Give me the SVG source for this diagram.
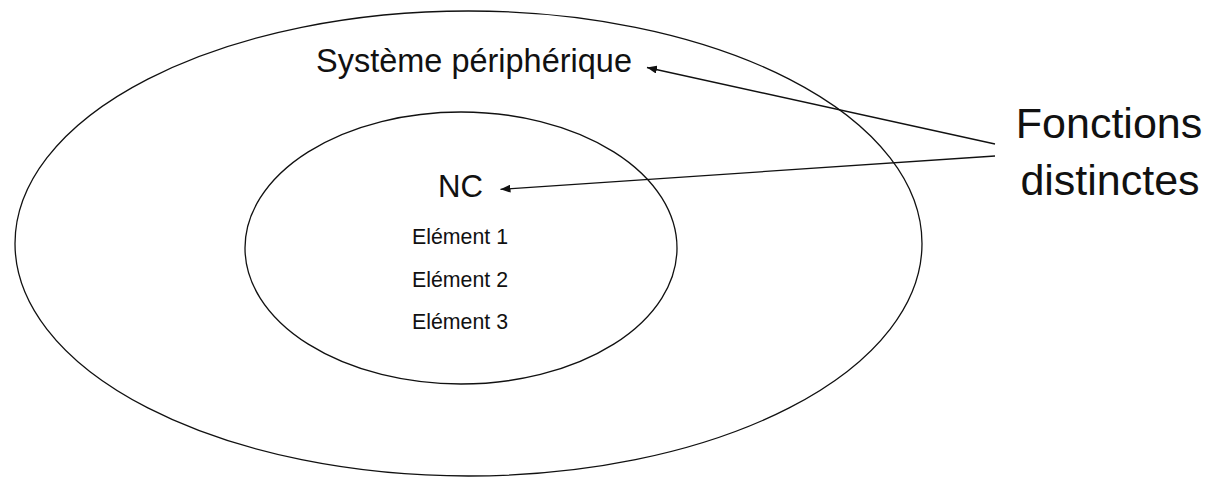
<svg xmlns="http://www.w3.org/2000/svg" width="1209" height="478" viewBox="0 0 1209 478">
<style>
.shape{fill:none;stroke:#111;stroke-width:1.3}
.conn{fill:none;stroke:#111;stroke-width:1.3}
.t{font-family:"Liberation Sans",Arial,sans-serif;fill:#111}
</style>
<defs>
<marker id="ah" viewBox="0 0 10 8" refX="10" refY="4" markerWidth="10" markerHeight="8" markerUnits="userSpaceOnUse" orient="auto">
<path d="M0,0 L10,4 L0,8 z" fill="#111"/>
</marker>
</defs>
<rect width="1209" height="478" fill="#fff"/>
<g id="peripheral">
<ellipse class="shape" cx="468.5" cy="243.5" rx="453.5" ry="232.5"/>
<text class="t" x="316" y="72" font-size="32.5" textLength="316" lengthAdjust="spacingAndGlyphs">Système périphérique</text>
</g>
<g id="nc">
<ellipse class="shape" cx="461" cy="248" rx="216" ry="136"/>
<text class="t" x="438" y="197" font-size="32" textLength="45" lengthAdjust="spacingAndGlyphs">NC</text>
<text class="t" x="412" y="244" font-size="22" textLength="96" lengthAdjust="spacingAndGlyphs">Elément 1</text>
<text class="t" x="412" y="287" font-size="22" textLength="96" lengthAdjust="spacingAndGlyphs">Elément 2</text>
<text class="t" x="412" y="329" font-size="22" textLength="96" lengthAdjust="spacingAndGlyphs">Elément 3</text>
</g>
<g id="fonctions">
<text class="t" x="1109" y="138" font-size="43" text-anchor="middle">Fonctions</text>
<text class="t" x="1110" y="195" font-size="43" text-anchor="middle">distinctes</text>
</g>
<g id="connectors">
<line class="conn" x1="995" y1="144" x2="647" y2="67.5" marker-end="url(#ah)"/>
<line class="conn" x1="995" y1="156" x2="500.5" y2="189.3" marker-end="url(#ah)"/>
</g>
</svg>
